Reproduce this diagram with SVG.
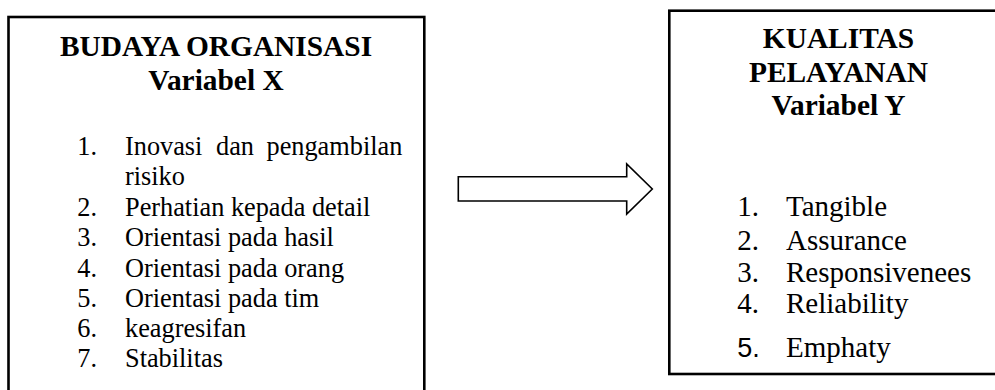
<svg xmlns="http://www.w3.org/2000/svg" width="995" height="390" viewBox="0 0 995 390">
  <style>
    .box { fill: #fff; stroke: #000; stroke-width: 2.6; }
    .head { font-family: "Liberation Serif", "Times New Roman", serif; font-weight: bold; font-size: 29.4px; fill: #000; text-anchor: middle; }
    .itemL { font-family: "Liberation Serif", "Times New Roman", serif; font-size: 26.3px; fill: #000; }
    .itemR { font-family: "Liberation Serif", "Times New Roman", serif; font-size: 29px; fill: #000; }
    .sans { font-family: "Liberation Sans", Arial, sans-serif; font-size: 27px; }
    .arrow { fill: #fff; stroke: #000; stroke-width: 1.6; stroke-linejoin: miter; }
  </style>

  <!-- Independent variable -->
  <g id="budaya-organisasi">
    <rect class="box" x="8.5" y="17" width="415.8" height="390"/>
    <text class="head" x="216" y="56">BUDAYA ORGANISASI</text>
    <text class="head" x="216" y="90">Variabel X</text>
    <g class="itemL">
      <text x="77.3" y="155">1.</text>
      <text y="155"><tspan x="125">Inovasi</tspan><tspan x="216">dan</tspan><tspan x="266.5">pengambilan</tspan></text>
      <text x="125" y="185.3">risiko</text>
      <text x="77.3" y="215.7">2.</text>
      <text x="125" y="215.7">Perhatian kepada detail</text>
      <text x="77.3" y="246">3.</text>
      <text x="125" y="246">Orientasi pada hasil</text>
      <text x="77.3" y="276.5">4.</text>
      <text x="125" y="276.5">Orientasi pada orang</text>
      <text x="77.3" y="306.8">5.</text>
      <text x="125" y="306.8">Orientasi pada tim</text>
      <text x="77.3" y="337.2">6.</text>
      <text x="125" y="337.2">keagresifan</text>
      <text x="77.3" y="367.4">7.</text>
      <text x="125" y="367.4">Stabilitas</text>
    </g>
  </g>

  <!-- Dependent variable -->
  <g id="kualitas-pelayanan">
    <rect class="box" x="669.3" y="10.7" width="340" height="363.3"/>
    <text class="head" x="838.5" y="48.3">KUALITAS</text>
    <text class="head" x="838.5" y="81.7">PELAYANAN</text>
    <text class="head" x="838.5" y="115">Variabel Y</text>
    <g class="itemR">
      <text x="737.3" y="216">1.</text>
      <text x="786" y="216">Tangible</text>
      <text x="737.3" y="250">2.</text>
      <text x="786" y="250">Assurance</text>
      <text x="737.3" y="281.7">3.</text>
      <text x="786" y="281.7">Responsivenees</text>
      <text x="737.3" y="312.7">4.</text>
      <text x="786" y="312.7">Reliability</text>
      <text class="sans" x="737.3" y="356.7">5.</text>
      <text x="786" y="356.7">Emphaty</text>
    </g>
  </g>

  <!-- Connector -->
  <g id="connectors">
    <polygon class="arrow" points="458.3,176.7 626.7,176.7 626.7,164 652.3,189 626.7,214 626.7,201 458.3,201"/>
  </g>
</svg>
